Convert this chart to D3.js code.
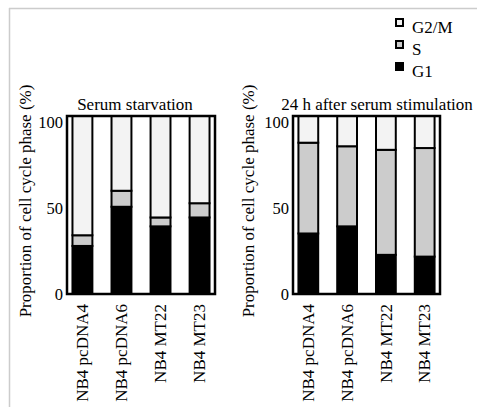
<!DOCTYPE html>
<html>
<head>
<meta charset="utf-8">
<script src="https://cdn.jsdelivr.net/npm/d3@7"></script>
<style>
  html, body { margin: 0; padding: 0; background: #fff; }
  svg { display: block; }
  svg text { font-family: "Liberation Serif", "Times New Roman", Times, serif; }
</style>
</head>
<body>
<svg id="chart" width="477" height="407"></svg>
<script>
// Cell lines on the x axis
const cellLines = ["NB4 pcDNA4", "NB4 pcDNA6", "NB4 MT22", "NB4 MT23"];
// Phase proportions (%) after serum starvation
const starvG1 = [27, 49, 38, 43];
const starvS = [6, 9, 5, 8];
const starvG2M = [67, 42, 57, 49];
// Phase proportions (%) 24 h after serum stimulation
const stimG1 = [34, 38, 22, 21];
const stimS = [51, 45, 59, 61];
const stimG2M = [15, 17, 19, 18];
// Axis ticks and legend
const yTicks = [0, 50, 100];
const phases = ["G2/M", "S", "G1"];
const phaseColors = { "G1": "#000000", "S": "#cccccc", "G2/M": "#f3f3f3" };
const yTitle = "Proportion of cell cycle phase (%)";

const svg = d3.select("#chart");

// outer light frame
svg.append("line").attr("x1", 9).attr("x2", 477).attr("y1", 8.5).attr("y2", 8.5)
  .attr("stroke", "#cccccc").attr("stroke-width", 1.5);
svg.append("line").attr("x1", 9.5).attr("x2", 9.5).attr("y1", 8).attr("y2", 407)
  .attr("stroke", "#cccccc").attr("stroke-width", 1.5);

function panel(opts) {
  const { x0, x1, y0, y1, title, titleX, axisTitleX, g1, s, g2m } = opts;
  const g = svg.append("g");
  const x = d3.scaleBand().domain(cellLines).range([x0, x1])
    .paddingInner(0.49).paddingOuter(0.14);
  const y = d3.scaleLinear().domain([0, 100]).range([y1, y0]);
  // tick labels sit slightly inside the top edge of the frame
  const yLabel = y.copy().range([y1, y0 + 6]);

  const rows = cellLines.map((c, i) => ({ line: c, "G1": g1[i], "S": s[i], "G2/M": g2m[i] }));
  const stacked = d3.stack().keys(["G1", "S", "G2/M"])(rows);

  stacked.forEach(layer => {
    g.selectAll(null).data(layer).join("rect")
      .attr("x", d => x(d.data.line))
      .attr("width", x.bandwidth())
      .attr("y", d => y(d[1]))
      .attr("height", d => y(d[0]) - y(d[1]))
      .attr("fill", phaseColors[layer.key])
      .attr("stroke", "#000")
      .attr("stroke-width", 2);
  });

  // plot frame
  g.append("rect").attr("x", x0).attr("y", y0)
    .attr("width", x1 - x0).attr("height", y1 - y0)
    .attr("fill", "none").attr("stroke", "#000").attr("stroke-width", 2.5);

  // y axis labels
  const ya = g.append("g").attr("transform", `translate(${x0 - 2},0)`)
    .call(d3.axisLeft(yLabel).tickValues(yTicks).tickSize(0).tickPadding(2));
  ya.attr("font-family", null).attr("font-size", null);
  ya.select(".domain").remove();
  ya.selectAll("text").attr("font-size", 16.5).attr("fill", "#000");

  // x axis labels (rotated)
  const xa = g.append("g").attr("transform", `translate(0,${y1 + 10})`)
    .call(d3.axisBottom(x).tickSize(0).tickPadding(0));
  xa.attr("font-family", null).attr("font-size", null);
  xa.select(".domain").remove();
  xa.selectAll("text")
    .attr("font-size", 17).attr("fill", "#000")
    .attr("transform", "rotate(-90)")
    .attr("text-anchor", "end")
    .attr("x", 0).attr("y", 0).attr("dy", "0.33em");

  // panel title
  g.append("text").attr("x", titleX).attr("y", y0 - 6)
    .attr("text-anchor", "middle").attr("font-size", 17).text(title);

  // y axis title
  g.append("text")
    .attr("transform", `translate(${axisTitleX},201) rotate(-90)`)
    .attr("text-anchor", "middle").attr("font-size", 17).text(yTitle);
}

panel({ x0: 67, x1: 215, y0: 116, y1: 294, title: "Serum starvation", titleX: 135,
  axisTitleX: 31, g1: starvG1, s: starvS, g2m: starvG2M });
panel({ x0: 293, x1: 440, y0: 116, y1: 294, title: "24 h after serum stimulation", titleX: 377,
  axisTitleX: 254, g1: stimG1, s: stimS, g2m: stimG2M });

// legend
const legend = svg.append("g").attr("transform", "translate(395,18)");
phases.forEach((p, i) => {
  const row = legend.append("g").attr("transform", `translate(0,${i * 22})`);
  row.append("rect").attr("x", 1).attr("y", 1).attr("width", 7).attr("height", 7)
    .attr("fill", phaseColors[p]).attr("stroke", "#000").attr("stroke-width", 2);
  row.append("text").attr("x", 17).attr("y", 14.5).attr("font-size", 17).text(p);
});
</script>
</body>
</html>
